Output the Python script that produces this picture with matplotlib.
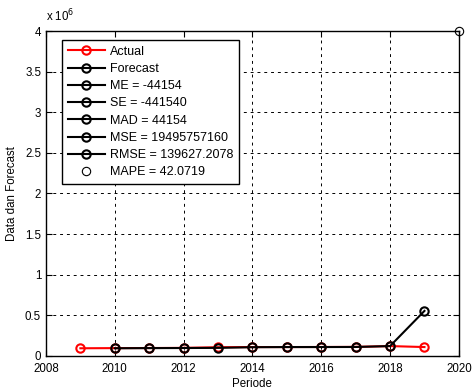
import matplotlib
matplotlib.use("Agg")
import matplotlib.pyplot as plt
import numpy as np

plt.rcParams['font.family'] = ['Liberation Sans', 'DejaVu Sans']

# data (in units of 1e6)
tahun_actual = [2009, 2010, 2011, 2012, 2013, 2014, 2015, 2016, 2017, 2018, 2019]
actual = [0.095, 0.097, 0.098, 0.100, 0.108, 0.110, 0.110, 0.111, 0.112, 0.122, 0.110]
tahun_forecast = [2010, 2011, 2012, 2013, 2014, 2015, 2016, 2017, 2018, 2019]
forecast = [0.095, 0.097, 0.098, 0.100, 0.108, 0.110, 0.110, 0.111, 0.122, 0.555]
metrik = ["ME = -44154", "SE = -441540", "MAD = 44154", "MSE = 19495757160",
          "RMSE = 139627.2078"]
mape_label = "MAPE = 42.0719"
mape_pos = (2020, 4.0)

fig = plt.figure(figsize=(4.76, 3.9), dpi=100)
ax = fig.add_axes([0.0966, 0.0872, 0.8674, 0.8333])

ax.plot(tahun_actual, np.array(actual) * 1e6, 'r-o', lw=1.5, ms=6, mfc='none', mew=1.5, label='Actual')
ax.plot(tahun_forecast, np.array(forecast) * 1e6, 'k-o', lw=1.5, ms=6, mfc='none', mew=1.5, label='Forecast')
for m in metrik:
    ax.plot([], [], 'k-o', lw=1.5, ms=6, mfc='none', mew=1.5, label=m)
ax.plot(mape_pos[0], mape_pos[1] * 1e6, 'ko', ms=6, mfc='none', mew=0.8, lw=0, label=mape_label, clip_on=False, zorder=5)

ax.set_xlim(2008, 2020)
ax.set_ylim(0, 4e6)
ax.set_xticks(range(2008, 2021, 2))
yt = np.arange(0, 4.01, 0.5)
ax.set_yticks(yt * 1e6)
ax.set_yticklabels(['0', '0.5', '1', '1.5', '2', '2.5', '3', '3.5', '4'])
ax.grid(True, color='k', ls=(0, (3, 4)), lw=0.7)
ax.tick_params(direction='in', top=True, right=True, labelsize=8.3, length=4)
ax.tick_params(axis='x', pad=5)
for s in ax.spines.values():
    s.set_linewidth(1.0)
ax.set_xlabel('Periode', fontsize=8.3, labelpad=2)
ax.set_ylabel('Data dan Forecast', fontsize=8.3, labelpad=5)
ax.text(0.0, 1.02, r'x 10$^{6}$', transform=ax.transAxes, fontsize=8.3, va='bottom', ha='left')

leg = ax.legend(loc='upper left', bbox_to_anchor=(0.0387, 0.972), borderaxespad=0, fontsize=9,
                handlelength=3.0, handletextpad=0.4, labelspacing=0.42, borderpad=0.45,
                fancybox=False, framealpha=1, edgecolor='k')
leg.get_frame().set_linewidth(1.0)

fig.savefig('out.png', dpi=100)
